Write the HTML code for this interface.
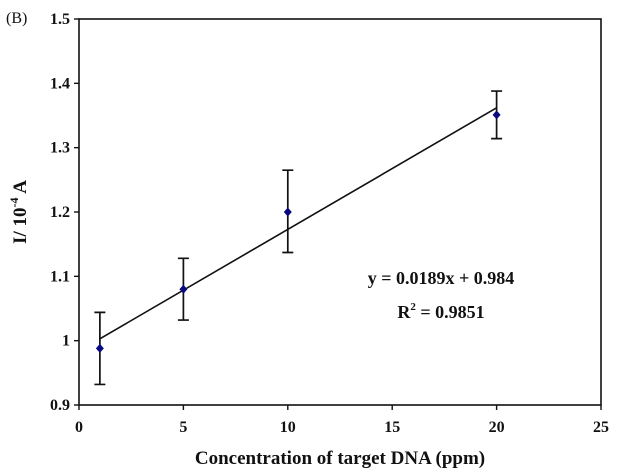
<!DOCTYPE html>
<html><head><meta charset="utf-8"><style>
body{margin:0;background:#fff}
svg{display:block}
text{font-family:"Liberation Serif",serif;font-weight:bold;fill:#111}
</style></head><body>
<svg id="chart" width="638" height="472">
<text x="6" y="23" font-size="16" style="font-weight:normal">(B)</text>
</svg>
<script>
const xs=[1,5,10,20];
const ys=[0.988,1.08,1.2,1.351];
const errLo=[0.932,1.032,1.137,1.314];
const errHi=[1.044,1.128,1.265,1.388];
const xTicks=[0,5,10,15,20,25];
const yTicks=[0.9,1,1.1,1.2,1.3,1.4,1.5];
const yTickLabels=["0.9","1","1.1","1.2","1.3","1.4","1.5"];
const slope=0.0189, intercept=0.984;
const svg=document.getElementById('chart');
const NS='http://www.w3.org/2000/svg';
const L=79,R=601,T=19,B=405;
const X=v=>L+(v-0)/25*(R-L);
const Y=v=>B-(v-0.9)/0.6*(B-T);
function mk(tag,attrs){const e=document.createElementNS(NS,tag);for(const k in attrs)e.setAttribute(k,attrs[k]);svg.appendChild(e);return e;}
let f=mk('rect',{x:L,y:T,width:R-L,height:B-T,fill:'none',stroke:'#111','stroke-width':1.6});


xTicks.forEach(t=>{
 let l=mk('line',{x1:X(t),x2:X(t),y1:B,y2:B+5,stroke:'#111','stroke-width':1.4});
 
 
 let tx=mk('text',{x:X(t),y:B+27,'text-anchor':'middle','font-size':16});tx.textContent=t;
 
 
});
yTicks.forEach((t,i)=>{
 let l=mk('line',{x1:L-5,x2:L,y1:Y(t),y2:Y(t),stroke:'#111','stroke-width':1.4});
 
 
 let tx=mk('text',{x:L-9,y:Y(t)+5,'text-anchor':'end','font-size':16});tx.textContent=yTickLabels[i];
 
 
});
let fit=mk('line',{x1:X(xs[0]),y1:Y(slope*xs[0]+intercept),x2:X(xs[xs.length-1]),y2:Y(slope*xs[xs.length-1]+intercept),stroke:'#111','stroke-width':1.6});


xs.forEach((x,i)=>{
 const cx=X(x);
 let e=mk('path',{d:`M${cx},${Y(errLo[i])}V${Y(errHi[i])}M${cx-5.5},${Y(errLo[i])}H${cx+5.5}M${cx-5.5},${Y(errHi[i])}H${cx+5.5}`,stroke:'#111','stroke-width':1.7,fill:'none'});
 
 
 const cy=Y(ys[i]);
 let p=mk('path',{d:`M${cx},${cy-4.5}L${cx+4},${cy}L${cx},${cy+4.5}L${cx-4},${cy}Z`,fill:'#0a0a80'});
 
 
});
</script>
<svg width="638" height="472" style="position:absolute;left:0;top:0">
<text x="441" y="284" font-size="18" text-anchor="middle">y = 0.0189x + 0.984</text>
<text x="441" y="318" font-size="18" text-anchor="middle">R<tspan dy="-8" font-size="11">2</tspan><tspan dy="8"> = 0.9851</tspan></text>
<text x="340" y="464" font-size="19" text-anchor="middle">Concentration of target DNA (ppm)</text>
<text transform="translate(26,212) rotate(-90)" font-size="19" text-anchor="middle">I/ 10<tspan dy="-8" font-size="12">-4</tspan><tspan dy="8"> A</tspan></text>
</svg>
</body></html>
